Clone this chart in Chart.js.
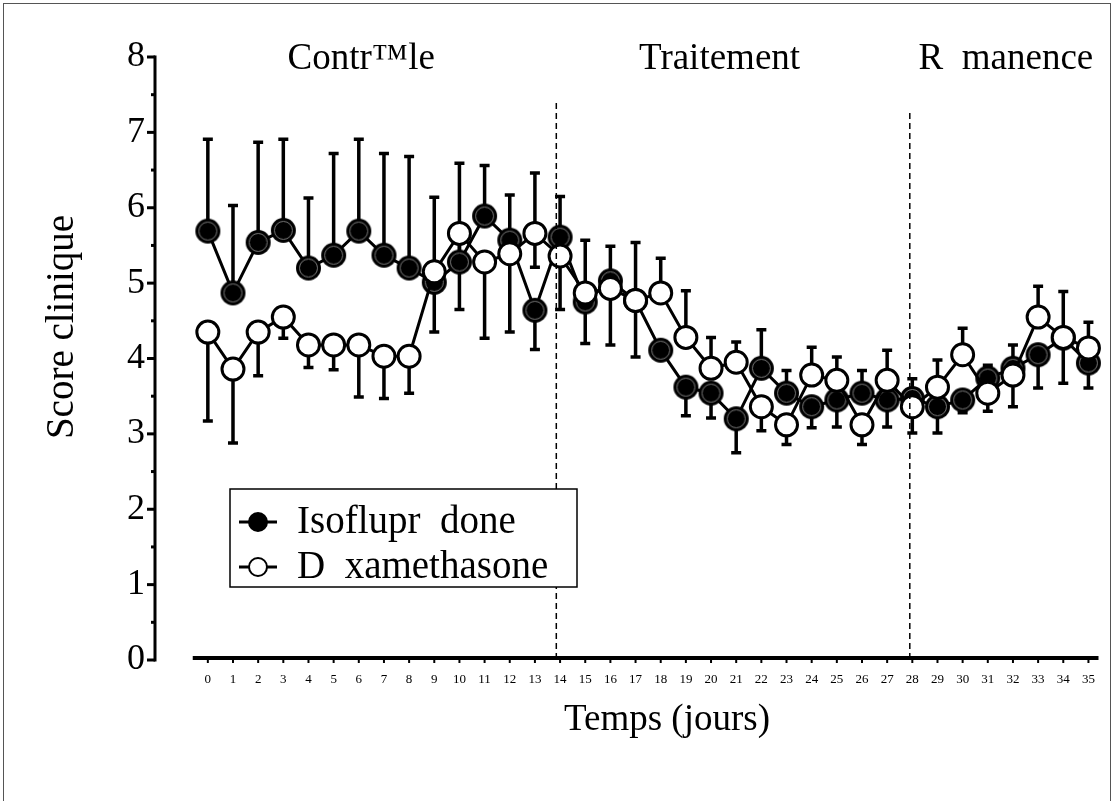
<!DOCTYPE html>
<html>
<head>
<meta charset="utf-8">
<script src="https://cdn.jsdelivr.net/npm/chart.js@4.4.0/dist/chart.umd.min.js"></script>
<style>
  html, body { margin: 0; padding: 0; background: #fff; overflow: hidden; }
  #wrap { width: 1114px; height: 801px; }
</style>
</head>
<body>
<div id="wrap"><canvas id="chart" width="1114" height="801"></canvas></div>
<script>
// values
const days = [0, 1, 2, 3, 4, 5, 6, 7, 8, 9, 10, 11, 12, 13, 14, 15, 16, 17, 18, 19, 20, 21, 22, 23, 24, 25, 26, 27, 28, 29, 30, 31, 32, 33, 34, 35];
const isoflurane = [5.69, 4.87, 5.54, 5.70, 5.20, 5.37, 5.69, 5.37, 5.20, 5.01, 5.28, 5.89, 5.57, 4.64, 5.61, 4.75, 5.03, 4.77, 4.11, 3.62, 3.54, 3.20, 3.87, 3.54, 3.36, 3.45, 3.54, 3.45, 3.47, 3.36, 3.45, 3.74, 3.87, 4.05, 4.27, 3.94];
const dexamethasone = [4.35, 3.86, 4.35, 4.55, 4.18, 4.18, 4.18, 4.03, 4.03, 5.15, 5.66, 5.28, 5.39, 5.66, 5.36, 4.87, 4.93, 4.77, 4.87, 4.28, 3.87, 3.95, 3.36, 3.12, 3.78, 3.71, 3.12, 3.71, 3.36, 3.62, 4.05, 3.54, 3.78, 4.55, 4.28, 4.14];
// error bar ends (null = no whisker on that side)
const isoHigh = [6.91, 6.03, 6.87, 6.91, 6.13, 6.72, 6.91, 6.72, 6.68, 6.14, 6.59, 6.56, 6.17, null, 6.15, null, null, null, null, null, null, null, 4.38, 3.84, null, null, 3.84, null, 3.73, null, null, 3.91, 4.18, null, null, null];
const isoLow = [null, null, null, null, null, null, null, null, null, null, null, null, null, 4.12, null, 4.20, 4.18, 4.02, null, 3.24, 3.21, 2.75, null, null, 3.08, 3.09, null, 3.09, null, 3.01, 3.28, null, null, 3.61, 3.67, 3.61];
const dexHigh = [null, null, null, null, null, null, null, null, null, null, null, null, null, 6.46, null, 5.57, 5.49, 5.54, 5.33, 4.90, 4.28, 4.22, null, null, 4.15, 4.02, null, 4.11, null, 3.98, 4.40, null, null, 4.96, 4.89, 4.48];
const dexLow = [3.17, 2.88, 3.77, 4.27, 3.88, 3.85, 3.49, 3.47, 3.54, 4.35, 4.65, 4.27, 4.35, 5.21, 4.65, null, null, null, null, null, null, null, 3.04, 2.86, null, null, 2.86, null, 3.01, null, null, 3.30, 3.36, null, null, null];
const yTicks = [0, 1, 2, 3, 4, 5, 6, 7, 8];
const seriesNames = ['Isoflupr  done', 'D  xamethasone'];
const phaseLabels = ['Contr\u2122le', 'Traitement', 'R  manence'];
const phaseBreaks = [13.85, 27.9];

const SERIF = '"Liberation Serif", "Times New Roman", serif';

// filled marker with the faint grey inner ring
function filledDot(r) {
  const c = document.createElement('canvas');
  const s = Math.ceil(r * 2 + 2);
  c.width = s; c.height = s;
  const g = c.getContext('2d');
  g.fillStyle = '#000';
  g.beginPath(); g.arc(s / 2, s / 2, r, 0, Math.PI * 2); g.fill();
  g.strokeStyle = '#7a7a7a'; g.lineWidth = 1;
  g.beginPath(); g.arc(s / 2, s / 2, r - 3.5, 0, Math.PI * 2); g.stroke();
  return c;
}
const dotImg = filledDot(12.5);

const decor = {
  id: 'decor',
  beforeDraw(chart) {
    const ctx = chart.ctx;
    ctx.save();
    ctx.fillStyle = '#fff';
    ctx.fillRect(0, 0, chart.width, chart.height);
    ctx.strokeStyle = '#555';
    ctx.lineWidth = 1;
    ctx.strokeRect(3.5, 3.5, 1107, 900);
    ctx.restore();
  },
  beforeDatasetsDraw(chart) {
    const { ctx, scales: { x, y } } = chart;
    ctx.save();
    ctx.strokeStyle = '#000';
    ctx.lineWidth = 3.5;
    const whiskers = (vals, ends) => days.forEach((d, i) => {
      if (ends[i] == null) return;
      const px = x.getPixelForValue(d);
      const p0 = y.getPixelForValue(vals[i]);
      const p1 = y.getPixelForValue(ends[i]);
      ctx.beginPath();
      ctx.moveTo(px, p0); ctx.lineTo(px, p1);
      ctx.moveTo(px - 5, p1); ctx.lineTo(px + 5, p1);
      ctx.stroke();
    });
    whiskers(isoflurane, isoHigh);
    whiskers(isoflurane, isoLow);
    whiskers(dexamethasone, dexHigh);
    whiskers(dexamethasone, dexLow);
    ctx.restore();
  },
  afterDatasetsDraw(chart) {
    const { ctx, scales: { x, y }, chartArea: a } = chart;
    ctx.save();

    // dashed phase separators
    ctx.strokeStyle = '#000';
    ctx.lineWidth = 1.5;
    ctx.setLineDash([6, 4]);
    [103, 113].forEach((top, k) => {
      const px = x.getPixelForValue(phaseBreaks[k]);
      ctx.beginPath(); ctx.moveTo(px, top); ctx.lineTo(px, y.getPixelForValue(0)); ctx.stroke();
    });
    ctx.setLineDash([]);

    // y axis with major/minor ticks
    ctx.lineWidth = 3;
    const ax = a.left;
    ctx.beginPath(); ctx.moveTo(ax, y.getPixelForValue(0) + 1.5); ctx.lineTo(ax, y.getPixelForValue(8) - 1.5); ctx.stroke();
    for (let v = 0; v <= 8; v += 0.5) {
      const py = y.getPixelForValue(v);
      const len = Number.isInteger(v) ? 8 : 4;
      ctx.beginPath(); ctx.moveTo(ax - len, py); ctx.lineTo(ax, py); ctx.stroke();
    }

    // x axis line with small ticks
    const xy = y.getPixelForValue(0) - 2;
    ctx.lineWidth = 4;
    ctx.beginPath(); ctx.moveTo(x.getPixelForValue(-0.6), xy); ctx.lineTo(a.right, xy); ctx.stroke();
    ctx.lineWidth = 2;
    days.forEach(d => {
      const px = x.getPixelForValue(d);
      ctx.beginPath(); ctx.moveTo(px, xy); ctx.lineTo(px, xy + 5); ctx.stroke();
    });

    // phase titles
    ctx.fillStyle = '#000';
    ctx.font = '37px ' + SERIF;
    ctx.textBaseline = 'middle';
    ctx.textAlign = 'left';
    [3.17, 17.14, 28.25].forEach((v, k) => {
      ctx.fillText(phaseLabels[k], x.getPixelForValue(v), 59);
    });

    // axis titles
    ctx.textAlign = 'center';
    ctx.font = '37px ' + SERIF;
    ctx.fillText('Temps (jours)', 667, 720);
    ctx.save();
    ctx.translate(63, 327);
    ctx.rotate(-Math.PI / 2);
    ctx.font = '39px ' + SERIF;
    ctx.fillText('Score clinique', 0, 0);
    ctx.restore();

    // legend box
    ctx.fillStyle = '#fff';
    ctx.fillRect(230, 489, 347, 98);
    ctx.strokeStyle = '#000';
    ctx.lineWidth = 1.5;
    ctx.strokeRect(230, 489, 347, 98);
    [522, 567].forEach((ly, k) => {
      ctx.lineWidth = 3;
      ctx.beginPath(); ctx.moveTo(239, ly); ctx.lineTo(277, ly); ctx.stroke();
      ctx.beginPath(); ctx.arc(258, ly, 9, 0, Math.PI * 2);
      ctx.fillStyle = k === 0 ? '#000' : '#fff';
      ctx.fill();
      ctx.lineWidth = 2; ctx.stroke();
      ctx.fillStyle = '#000';
      ctx.font = '39px ' + SERIF;
      ctx.textAlign = 'left';
      ctx.fillText(seriesNames[k], 297, ly + 1);
    });
    ctx.restore();
  }
};

new Chart(document.getElementById('chart'), {
  type: 'line',
  data: {
    datasets: [{
      label: seriesNames[0],
      data: days.map((d, i) => ({ x: d, y: isoflurane[i] })),
      borderColor: '#000',
      borderWidth: 3,
      pointStyle: dotImg,
      pointRadius: 12.5,
      clip: false,
      order: 2
    }, {
      label: seriesNames[1],
      data: days.map((d, i) => ({ x: d, y: dexamethasone[i] })),
      borderColor: '#000',
      borderWidth: 3,
      pointBackgroundColor: '#fff',
      pointBorderColor: '#000',
      pointBorderWidth: 3,
      pointRadius: 11,
      clip: false,
      order: 1
    }]
  },
  options: {
    responsive: false,
    animation: false,
    layout: { padding: { top: 57, right: 14, left: 0, bottom: 0 } },
    plugins: { legend: { display: false }, tooltip: { enabled: false } },
    scales: {
      x: {
        type: 'linear',
        min: -2.1,
        max: 35.4,
        afterBuildTicks: s => { s.ticks = days.map(v => ({ value: v })); },
        afterFit: s => { s.height = 141; },
        grid: { display: false, drawTicks: false },
        border: { display: false },
        ticks: { color: '#000', padding: 12, maxRotation: 0, autoSkip: false, font: { family: SERIF, size: 13 } }
      },
      y: {
        min: 0,
        max: 8,
        afterBuildTicks: s => { s.ticks = yTicks.map(v => ({ value: v })); },
        afterFit: s => { s.width = 155; },
        grid: { display: false, drawTicks: false },
        border: { display: false },
        ticks: { color: '#000', padding: 10, font: { family: SERIF, size: 36 } }
      }
    }
  },
  plugins: [decor]
});
</script>
</body>
</html>
